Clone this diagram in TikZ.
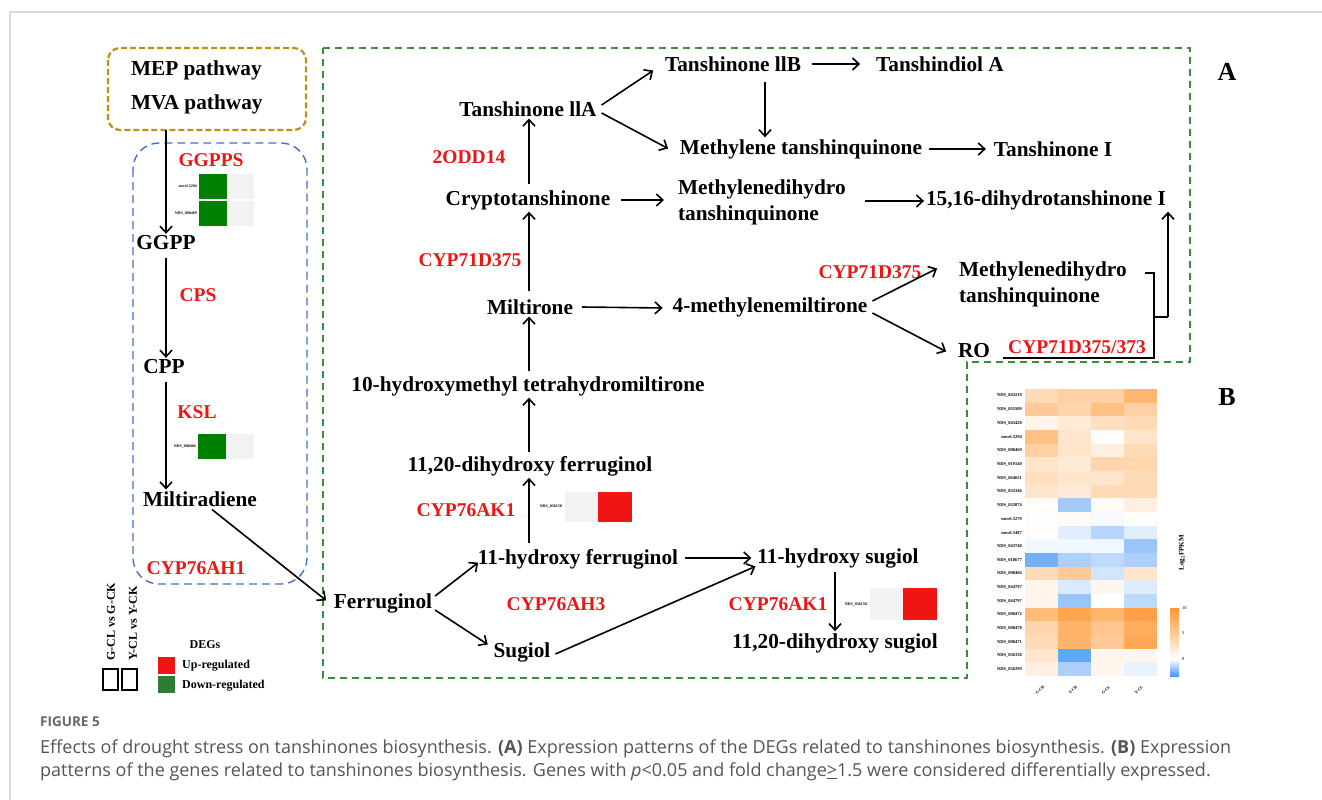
\documentclass[tikz,border=0pt]{standalone}
\usepackage{fontspec}
\setmainfont{Liberation Serif}
\newfontfamily\capfont{Open Sans}
\usetikzlibrary{arrows.meta,calc}
\definecolor{redlab}{RGB}{240,20,20}
\definecolor{goldc}{RGB}{191,144,20}
\definecolor{greenc}{RGB}{60,140,60}
\definecolor{bluec}{RGB}{68,114,196}
\definecolor{tilegreen}{RGB}{0,128,0}
\definecolor{tilegray}{RGB}{242,242,242}
\definecolor{legreen}{RGB}{46,125,50}
\definecolor{hmO}{RGB}{255,150,50}
\definecolor{hmB}{RGB}{70,150,245}
\definecolor{capc}{RGB}{85,85,85}
\begin{document}
\begin{tikzpicture}[x=1pt,y=-1pt,
  t/.style={font=\fontsize{21.3}{25}\selectfont\bfseries, inner sep=1pt, outer sep=0pt},
  rl/.style={font=\fontsize{19.5}{22}\selectfont\bfseries, text=redlab, inner sep=1pt},
  arr/.style={-{Straight Barb[length=6.5pt,width=12pt]}, line width=1.6pt, shorten >=1pt},
  ln/.style={line width=1.6pt},
  tl/.style={font=\fontsize{4}{5}\selectfont\bfseries, inner sep=1pt, anchor=east},
  hl/.style={font=\fontsize{4.5}{5}\selectfont\bfseries, inner sep=1pt, anchor=east},
  lg/.style={font=\fontsize{12}{14}\selectfont\bfseries, inner sep=1pt},
  captxt/.style={font=\capfont\fontsize{18}{21}\selectfont, text=capc, anchor=west, inner sep=0pt}
]
\useasboundingbox (0,0) rectangle (1322,800);
\fill[white] (0,0) rectangle (1322,800);
% frame
\draw[black!15, line width=1.5pt] (10,800) -- (10,12) -- (1322,12);

% ---- boxes
\draw[goldc, line width=2.2pt, dash pattern=on 6pt off 3pt, rounded corners=12pt] (108,48) rectangle (306,130);
\coordinate (pwb) at (166,130);
\draw[bluec, line width=1.4pt, dash pattern=on 8pt off 5pt, rounded corners=26pt] (133,143) rectangle (307,584);
\draw[greenc, line width=1.6pt, dash pattern=on 7pt off 5pt] (323,48) -- (1190,48) -- (1190,362) -- (967,362) -- (967,678) -- (323,678) -- cycle;

\node[font=\fontsize{26}{30}\selectfont\bfseries] (la) at (1227,72) {A};
\node[font=\fontsize{26}{30}\selectfont\bfseries] (lb) at (1227,397) {B};

% ---- left column
\node[t, anchor=west] (mep) at (130,70) {MEP pathway};
\node[t, anchor=west] (mva) at (130,104) {MVA pathway};
\node[t] (ggpp) at (166,243) {GGPP};
\node[t] (cpp) at (164,367) {CPP};
\node[t] (milt) at (200,499) {Miltiradiene};
\node[rl] (ggpps) at (211,160) {GGPPS};
\node[rl] (cps) at (198,295) {CPS};
\node[rl] (ksl) at (197,412) {KSL};
\node[rl] (ah1) at (196,568) {CYP76AH1};

\draw[arr] (pwb) -- (pwb |- ggpp.north);
\coordinate (vg) at (166,258);
\draw[arr] (vg) -- (vg |- cpp.north);
\coordinate (vc) at (166,382);
\draw[arr] (vc) -- (vc |- milt.north);

% tiles GGPPS
\fill[tilegreen] (199,174) rectangle (227,199);
\fill[tilegray] (227,174) rectangle (254,199);
\fill[tilegreen] (199,200.5) rectangle (227,226);
\fill[tilegray] (227,200.5) rectangle (254,226);
\node[tl] (g1) at (198,186) {novel.5294};
\node[tl] (g2) at (198,213) {NDS\_008469};
% tile KSL
\fill[tilegreen] (198,434) rectangle (226,459);
\fill[tilegray] (226,434) rectangle (254,459);
\node[tl] (k1) at (197,446) {NDS\_008466};

% ---- main pathway
\node[t] (fer) at (383,603) {Ferruginol};
\node[t] (hf) at (578,559) {11-hydroxy ferruginol};
\node[t] (sug) at (522,652) {Sugiol};
\node[t] (hs) at (838,558) {11-hydroxy sugiol};
\node[t] (dhs) at (835,643) {11,20-dihydroxy sugiol};
\node[t] (dhf) at (530,466) {11,20-dihydroxy ferruginol};
\node[t] (hm) at (528,386) {10-hydroxymethyl tetrahydromiltirone};
\node[t] (mil) at (530,307) {Miltirone};
\node[t] (mm) at (770,307) {4-methylenemiltirone};
\node[t] (cry) at (528,200) {Cryptotanshinone};
\node[t] (t2a) at (528,109) {Tanshinone llA};
\node[t] (t2b) at (733,64) {Tanshinone llB};
\node[t] (tda) at (940,64) {Tanshindiol A};
\node[t] (mtq) at (801,149) {Methylene tanshinquinone};
\node[t] (t1) at (1053,149) {Tanshinone I};
\node[t, anchor=west, align=left, font=\fontsize{21.3}{26}\selectfont\bfseries] (mdt1) at (677,202) {Methylenedihydro\\tanshinquinone};
\node[t] (dht) at (1046,200) {15,16-dihydrotanshinone I};
\node[t, anchor=west, align=left, font=\fontsize{21.3}{26}\selectfont\bfseries] (mdt2) at (958,284) {Methylenedihydro\\tanshinquinone};
\node[t, anchor=west] (ro) at (957,351) {RO};

\node[rl] (odd) at (469,157) {2ODD14};
\node[rl] (d375a) at (470,260) {CYP71D375};
\node[rl] (ak1a) at (466,510) {CYP76AK1};
\node[rl] (ah3) at (556,604) {CYP76AH3};
\node[rl] (ak1b) at (778,604) {CYP76AK1};
\node[rl] (d375b) at (870,272) {CYP71D375};
\node[rl] (d373) at (1077,347) {CYP71D375/373};

% tiles AK1
\fill[tilegray] (565,492) rectangle (598,522);
\fill[redlab] (598,492) rectangle (632,522);
\node[tl] (a1) at (563,506) {NDS\_036158};
\fill[tilegray] (870,588) rectangle (903,620);
\fill[redlab] (903,588) rectangle (937,620);
\node[tl] (a2) at (868,604) {NDS\_036158};

% arrows
\draw[arr] ($(milt.south)+(12,2)$) -- ($(fer.west)+(-6,-2)$);
\draw[arr] ($(fer.east)+(2,-7)$) -- ($(hf.west)+(2,3)$);
\draw[arr] ($(fer.east)+(2,7)$) -- ($(sug.west)+(-4,-7)$);
\coordinate (h1) at (685,558);
\draw[arr] (h1) -- ($(h1 -| hs.west)+(-4,0)$);
\draw[arr] ($(sug.east)+(4,2)$) -- ($(hs.west)+(0,8)$);
\coordinate (vhs) at (835,572);
\draw[arr] (vhs) -- (vhs |- dhs.north);
\coordinate (vhf) at (529,543);
\draw[arr] (vhf) -- (vhf |- dhf.south);
\coordinate (vdf) at (529,452);
\draw[arr] (vdf) -- (vdf |- hm.south);
\coordinate (vhm) at (529,371);
\draw[arr] (vhm) -- (vhm |- mil.south);
\coordinate (vmi) at (529,291);
\draw[arr] (vmi) -- (vmi |- cry.south);
\draw[arr] ($(mil.east)+(8,0)$) -- ($(mm.west)+(-8,1)$);
\coordinate (vcr) at (529,184);
\draw[arr] (vcr) -- (vcr |- t2a.south);
\draw[arr] ($(cry.east)+(10,0)$) -- ($(mdt1.west |- cry.east)+(-12,0)$);
\coordinate (h2) at (865,201);
\draw[arr] (h2) -- (h2 -| dht.west);
\draw[arr] ($(t2a.east)+(4,-4)$) -- ($(t2b.west)+(-10,6)$);
\draw[arr] ($(t2a.east)+(4,4)$) -- ($(mtq.west)+(-10,0)$);
\draw[arr] ($(t2b.east)+(10,0)$) -- ($(tda.west)+(-14,0)$);
\coordinate (v2b) at (765,82);
\draw[arr] (v2b) -- (v2b |- mtq.north);
\draw[arr] ($(mtq.east)+(6,0)$) -- ($(t1.west)+(-6,0)$);
\draw[arr] ($(mm.east)+(4,-6)$) -- ($(mdt2.west)+(-20,-16)$);
\draw[arr] ($(mm.east)+(4,6)$) -- ($(ro.west)+(-10,1)$);
% bracket
\coordinate (br1) at (1145,273);
\coordinate (br2) at (1154,273);
\coordinate (br3) at (1154,358);
\coordinate (br4) at (1003,358);
\coordinate (bj) at (1154,317);
\coordinate (bk) at (1168,317);
\draw[ln] (br1) -- (br2) -- (br3) -- (br4);
\draw[ln] (bj) -- (bk);
\draw[arr] (bk) -- (bk |- dht.south);

% ---- heatmap
\foreach \lab/\va/\vb/\vc/\vd [count=\r from 0] in {
 NDS\_043219/35/45/45/70,
 NDS\_035509/50/40/60/45,
 NDS\_043420/10/20/30/35,
 novel.5294/60/25/3/25,
 NDS\_008469/45/25/15/35,
 NDS\_019140/25/20/40/40,
 NDS\_064651/30/25/25/35,
 NDS\_032346/25/20/35/35,
 NDS\_032074/3/-50/5/15,
 novel.5279/2/5/-5/2,
 novel.5487/2/-17/-40/-17,
 NDS\_043740/-8/-8/-8/-55,
 NDS\_018677/-75/-45/-35/-45,
 NDS\_008466/35/50/-25/25,
 NDS\_044797/10/-20/8/-18,
 NDS\_044797/10/-55/0/-35,
 NDS\_008472/65/85/70/90,
 NDS\_008470/40/72/55/78,
 NDS\_008471/35/72/50/82,
 NDS\_036158/25/-85/10/8,
 NDS\_036299/15/-45/8/-12}{
  \node[hl] at (1023,{389+13.67*\r+6.8}) {\lab};
  \foreach \v [count=\c from 0] in {\va,\vb,\vc,\vd}{
    \pgfmathtruncatemacro\av{abs(\v)}
    \ifnum\v<0 \colorlet{cellc}{hmB!\av!white}\else\colorlet{cellc}{hmO!\av!white}\fi
    \fill[cellc] ({1025+33*\c},{389+13.67*\r}) rectangle ({1058+33*\c},{389+13.67*(\r+1)});
  }
}
\foreach \cl [count=\c from 0] in {G-CK,Y-CK,G-CL,Y-CL}{
  \node[font=\fontsize{4.2}{5}\selectfont\bfseries, inner sep=0pt, rotate=45] at ({1040+33*\c},690) {\cl};
}
\shade[top color=hmO, bottom color=white] (1170,608) rectangle (1179,659);
\shade[top color=white, bottom color=hmB] (1170,659) rectangle (1179,676);
\node[font=\fontsize{4.5}{5}\selectfont, anchor=west, inner sep=1pt] (c10) at (1181,608) {10};
\node[font=\fontsize{4.5}{5}\selectfont, anchor=west, inner sep=1pt] (c5) at (1181,633) {5};
\node[font=\fontsize{4.5}{5}\selectfont, anchor=west, inner sep=1pt] (c0) at (1181,659) {0};
\node[font=\fontsize{7}{8}\selectfont\bfseries, rotate=90, inner sep=1pt] (lfp) at (1182,553) {Log$_\mathbf{2}$FPKM};

% ---- legend
\node[lg, rotate=90, anchor=west] (l1) at (111,662) {G-CL vs G-CK};
\node[lg, rotate=90, anchor=west] (l2) at (133,662) {Y-CL vs Y-CK};
\draw[line width=2pt] (103,669) rectangle (118,690);
\draw[line width=2pt] (122,669) rectangle (137,690);
\node[lg] (deg) at (205,645) {DEGs};
\fill[redlab] (158,657) rectangle (175,674);
\fill[legreen] (158,676) rectangle (175,693);
\node[lg, anchor=west] (up) at (181,666) {Up-regulated};
\node[lg, anchor=west] (dn) at (181,686) {Down-regulated};

% ---- caption
\node[font=\capfont\bfseries\fontsize{13.5}{15}\selectfont, text=black!60, anchor=west, inner sep=0pt] (fig) at (40,722) {FIGURE 5};
\node[captxt] (cap1) at (40,749) {Effects of drought stress on tanshinones biosynthesis. \textbf{(A)} Expression patterns of the DEGs related to tanshinones biosynthesis. \textbf{(B)} Expression};
\node[captxt] (cap2) at (40,772) {patterns of the genes related to tanshinones biosynthesis. Genes with \textit{p}<0.05 and fold change\underline{>}1.5 were considered differentially expressed.};
\end{tikzpicture}
\end{document}
